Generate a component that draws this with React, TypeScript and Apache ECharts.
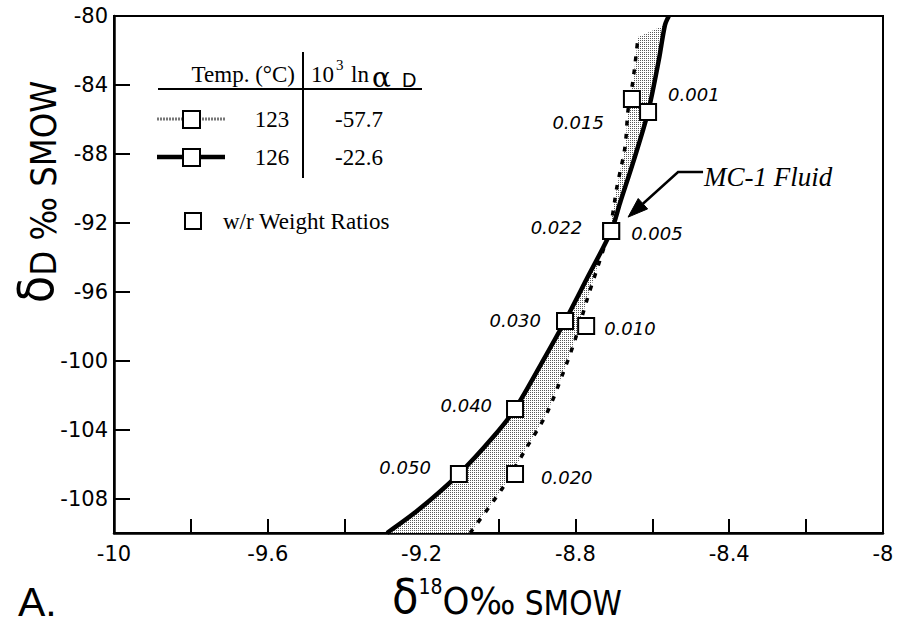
import React, { useEffect, useRef } from "react";
import * as echarts from "echarts";

// ---- axis ticks ----
const xLabelValues = [-10, -9.6, -9.2, -8.8, -8.4, -8];
const yTickValues = [-108, -104, -100, -96, -92, -88, -84, -80];

// ---- 126 °C curve (solid): δ18O, δD ----
const solidX = [-9.29, -9.209, -9.103, -9.014, -8.957, -8.879, -8.827, -8.772, -8.707, -8.684, -8.648, -8.611, -8.583, -8.567, -8.557];
const solidY = [-110, -108.67, -106.58, -104.43, -102.81, -99.79, -97.7, -95.32, -92.48, -90.85, -88.36, -85.57, -82.55, -80.52, -80];

// ---- 123 °C curve (dotted) ----
const dottedX = [-9.074, -8.988, -8.926, -8.874, -8.832, -8.801, -8.77, -8.71, -8.692, -8.671, -8.663, -8.65, -8.637];
const dottedY = [-110, -107.34, -105.01, -103.04, -100.72, -98.8, -96.48, -92.25, -89.92, -87.6, -85.46, -83.71, -81.22];

// ---- w/r weight ratio squares ----
const solidSqX = [-9.103, -8.957, -8.827, -8.707, -8.653];
const solidSqY = [-106.58, -102.81, -97.7, -92.48, -84.82];
const solidSqLabels = ["0.050", "0.040", "0.030", "0.022", "0.015"];

const dottedSqX = [-8.957, -8.772, -8.707, -8.611];
const dottedSqY = [-106.58, -97.99, -92.48, -85.57];
const dottedSqLabels = ["0.020", "0.010", "0.005", "0.001"];

// ---- legend table ----
const legendTemps = ["123", "126"];
const legendAlpha = ["-57.7", "-22.6"];

// ---- annotation ----
const arrowX = [-8.468, -8.533, -8.663];
const arrowY = [-89.05, -89.05, -91.67];
const annotationText = "MC-1 Fluid";

// label layout (style only)
const solidLabelLayout = [
  { distance: 19, offset: [0, -7] },
  { distance: 14, offset: [0, -4] },
  { distance: 15, offset: [0, -1] },
  { distance: 20, offset: [0, -4] },
  { distance: 19, offset: [0, 23] },
];
const dottedLabelLayout = [
  { distance: 17, offset: [0, 3] },
  { distance: 9, offset: [0, 2] },
  { distance: 11, offset: [0, 2] },
  { distance: 11, offset: [0, -17] },
];

const TICK_FONT = "'DejaVu Sans', sans-serif";
const SERIF = "'Liberation Serif', 'Times New Roman', serif";
const TITLE = "'Liberation Sans Narrow', 'DejaVu Sans Condensed', 'Liberation Sans', sans-serif";

function makeStipple(): any {
  try {
    const c = document.createElement("canvas");
    c.width = 2;
    c.height = 2;
    const ctx = c.getContext("2d");
    if (!ctx) return "#d2d2d2";
    ctx.fillStyle = "#ffffff";
    ctx.fillRect(0, 0, 2, 2);
    ctx.fillStyle = "#5a5a5a";
    ctx.fillRect(0, 0, 1, 1);
    return { image: c, repeat: "repeat", imageWidth: 2, imageHeight: 2 };
  } catch (e) {
    return "#d2d2d2";
  }
}

export default function App() {
  const ref = useRef<HTMLDivElement>(null);

  useEffect(() => {
    if (!ref.current) return;
    const chart = echarts.init(ref.current, null, { renderer: "svg" });
    const stipple = makeStipple();

    const legendRowsY = [119, 157];
    const legendGraphics: any[] = [
      { type: "line", shape: { x1: 158, y1: 89, x2: 422, y2: 89 }, style: { stroke: "#000", lineWidth: 2 } },
      { type: "line", shape: { x1: 303, y1: 52, x2: 303, y2: 178 }, style: { stroke: "#000", lineWidth: 2 } },
      { type: "text", x: 295, y: 74, style: { text: "Temp. (°C)", fontFamily: SERIF, fontSize: 23, fill: "#000", align: "right", verticalAlign: "middle" } },
      { type: "text", x: 311, y: 74, style: { text: "10", fontFamily: SERIF, fontSize: 23, fill: "#000", align: "left", verticalAlign: "middle" } },
      { type: "text", x: 336, y: 65, style: { text: "3", fontFamily: SERIF, fontSize: 15, fill: "#000", align: "left", verticalAlign: "middle" } },
      { type: "text", x: 351, y: 74, style: { text: "ln", fontFamily: SERIF, fontSize: 23, fill: "#000", align: "left", verticalAlign: "middle" } },
      { type: "text", x: 372, y: 77, style: { text: "α", fontFamily: "'DejaVu Serif', serif", fontSize: 28, fill: "#000", align: "left", verticalAlign: "middle" } },
      { type: "text", x: 402, y: 80, style: { text: "D", fontFamily: "'Liberation Sans', sans-serif", fontSize: 20, fill: "#000", align: "left", verticalAlign: "middle" } },
    ];
    legendRowsY.forEach((y, i) => {
      legendGraphics.push({
        type: "line",
        shape: { x1: 157, y1: y, x2: 225, y2: y },
        style: i === 0 ? { stroke: "#777", lineWidth: 3, lineDash: [2, 1] } : { stroke: "#000", lineWidth: 4.5 },
      });
      legendGraphics.push({ type: "rect", shape: { x: 183, y: y - 8, width: 17, height: 17 }, style: { fill: "#fff", stroke: "#000", lineWidth: 2 } });
      legendGraphics.push({ type: "text", x: 272, y: y, style: { text: legendTemps[i], fontFamily: SERIF, fontSize: 23, fill: "#000", align: "center", verticalAlign: "middle" } });
      legendGraphics.push({ type: "text", x: 359, y: y, style: { text: legendAlpha[i], fontFamily: SERIF, fontSize: 23, fill: "#000", align: "center", verticalAlign: "middle" } });
    });
    legendGraphics.push({ type: "rect", shape: { x: 185, y: 213, width: 16, height: 16 }, style: { fill: "#fff", stroke: "#000", lineWidth: 2 } });
    legendGraphics.push({ type: "text", x: 223, y: 221, style: { text: "w/r Weight Ratios", fontFamily: SERIF, fontSize: 23, fill: "#000", align: "left", verticalAlign: "middle" } });

    const titleGraphics: any[] = [
      {
        type: "text",
        x: 507,
        y: 598,
        style: {
          text: "{d|δ}{s|18}{o|O‰}{n| SMOW}",
          align: "center",
          verticalAlign: "middle",
          fill: "#000",
          rich: {
            d: { fontSize: 48, lineHeight: 44, fontFamily: TITLE, verticalAlign: "bottom", fill: "#000" },
            s: { fontSize: 21, lineHeight: 44, fontFamily: TITLE, verticalAlign: "top", fill: "#000" },
            o: { fontSize: 38, lineHeight: 44, fontFamily: TITLE, verticalAlign: "bottom", fill: "#000" },
            n: { fontSize: 33, lineHeight: 44, fontFamily: TITLE, verticalAlign: "bottom", fill: "#000" },
          },
        },
      },
      {
        type: "text",
        x: 38,
        y: 192,
        rotation: Math.PI / 2,
        style: {
          text: "{d|δ}{n|D ‰ SMOW}",
          align: "center",
          verticalAlign: "middle",
          fill: "#000",
          rich: {
            d: { fontSize: 50, lineHeight: 46, fontFamily: TITLE, verticalAlign: "bottom", fill: "#000" },
            n: { fontSize: 36, lineHeight: 46, fontFamily: TITLE, verticalAlign: "bottom", fill: "#000" },
          },
        },
      },
      { type: "text", x: 18, y: 602, style: { text: "A.", fontFamily: "'Liberation Sans', sans-serif", fontSize: 41, lineHeight: 40, fill: "#000", align: "left", verticalAlign: "middle" } },
    ];

    const option: any = {
      animation: false,
      backgroundColor: "#fff",
      grid: { left: 114, right: 14, top: 16, bottom: 91, show: true, borderColor: "#000", borderWidth: 2 },
      xAxis: {
        type: "value",
        min: -10,
        max: -8,
        interval: 0.2,
        splitLine: { show: false },
        axisLine: { show: true, onZero: false, lineStyle: { color: "#000", width: 2.5 } },
        axisTick: { show: true, inside: true, length: 14, lineStyle: { color: "#000", width: 2 } },
        axisLabel: {
          margin: 10,
          color: "#000",
          fontFamily: TICK_FONT,
          fontSize: 21,
          showMinLabel: true,
          showMaxLabel: true,
          formatter: (v: number) => {
            const r = Math.round(v * 10);
            const hit = xLabelValues.some((t) => Math.round(t * 10) === r);
            return hit ? String(r / 10) : "";
          },
        },
      },
      yAxis: {
        type: "value",
        min: -110,
        max: -80,
        splitLine: { show: false },
        axisLine: { show: true, onZero: false, lineStyle: { color: "#000", width: 2.5 } },
        axisTick: { show: true, inside: true, length: 16, customValues: yTickValues, lineStyle: { color: "#000", width: 2 } },
        axisLabel: { margin: 6, color: "#000", fontFamily: TICK_FONT, fontSize: 21, customValues: yTickValues, formatter: (v: number) => String(Math.round(v)) },
      },
      graphic: [...legendGraphics, ...titleGraphics],
      series: [
        {
          type: "custom",
          silent: true,
          clip: true,
          z: 1,
          data: [[-9, -95]],
          renderItem: (_p: any, api: any) => {
            const pts: number[][] = [];
            for (let i = 0; i < solidX.length - 1; i++) pts.push(api.coord([solidX[i], solidY[i]]));
            for (let i = dottedX.length - 1; i >= 0; i--) pts.push(api.coord([dottedX[i], dottedY[i]]));
            return { type: "polygon", shape: { points: pts }, style: { fill: stipple, stroke: "none" } };
          },
        },
        {
          type: "line",
          z: 3,
          smooth: 0.3,
          showSymbol: false,
          clip: true,
          lineStyle: { color: "#000", width: 4.5 },
          data: solidX.map((x, i) => [x, solidY[i]]),
        },
        {
          type: "line",
          z: 3,
          smooth: 0.3,
          showSymbol: false,
          clip: true,
          lineStyle: { color: "#000", width: 3.5, type: [5, 8] },
          data: dottedX.map((x, i) => [x, dottedY[i]]),
        },
        {
          type: "scatter",
          z: 5,
          symbol: "rect",
          symbolSize: 16,
          itemStyle: { color: "#fff", borderColor: "#000", borderWidth: 2, opacity: 1 },
          label: { show: true, position: "left", color: "#000", fontFamily: TICK_FONT, fontStyle: "italic", fontSize: 18 },
          data: solidSqX.map((x, i) => ({
            value: [x, solidSqY[i]],
            label: { formatter: solidSqLabels[i], distance: solidLabelLayout[i].distance, offset: solidLabelLayout[i].offset },
          })),
        },
        {
          type: "scatter",
          z: 5,
          symbol: "rect",
          symbolSize: 16,
          itemStyle: { color: "#fff", borderColor: "#000", borderWidth: 2, opacity: 1 },
          label: { show: true, position: "right", color: "#000", fontFamily: TICK_FONT, fontStyle: "italic", fontSize: 18 },
          data: dottedSqX.map((x, i) => ({
            value: [x, dottedSqY[i]],
            label: { formatter: dottedSqLabels[i], distance: dottedLabelLayout[i].distance, offset: dottedLabelLayout[i].offset },
          })),
        },
        {
          type: "custom",
          silent: true,
          clip: false,
          z: 6,
          data: [[arrowX[0], arrowY[0]]],
          renderItem: (_p: any, api: any) => {
            const p = arrowX.map((x, i) => api.coord([x, arrowY[i]]));
            const tip = p[2];
            const prev = p[1];
            const dx = tip[0] - prev[0];
            const dy = tip[1] - prev[1];
            const len = Math.hypot(dx, dy);
            const ux = dx / len;
            const uy = dy / len;
            const hl = 20;
            const hw = 7;
            const bx = tip[0] - ux * hl;
            const by = tip[1] - uy * hl;
            return {
              type: "group",
              children: [
                { type: "polyline", shape: { points: [p[0], p[1], [bx, by]] }, style: { stroke: "#000", lineWidth: 2.5, fill: "none" } },
                { type: "polygon", shape: { points: [tip, [bx - uy * hw, by + ux * hw], [bx + uy * hw, by - ux * hw]] }, style: { fill: "#000", stroke: "#000", lineWidth: 1 } },
                {
                  type: "text",
                  x: p[0][0] + 1,
                  y: p[0][1] + 5,
                  style: { text: annotationText, fontFamily: SERIF, fontStyle: "italic", fontSize: 27, fill: "#000", align: "left", verticalAlign: "middle" },
                },
              ],
            };
          },
        },
      ],
    };

    chart.setOption(option);
    return () => chart.dispose();
  }, []);

  return <div ref={ref} style={{ position: "fixed", left: 0, top: 0, width: 897, height: 624, background: "#fff" }} />;
}
